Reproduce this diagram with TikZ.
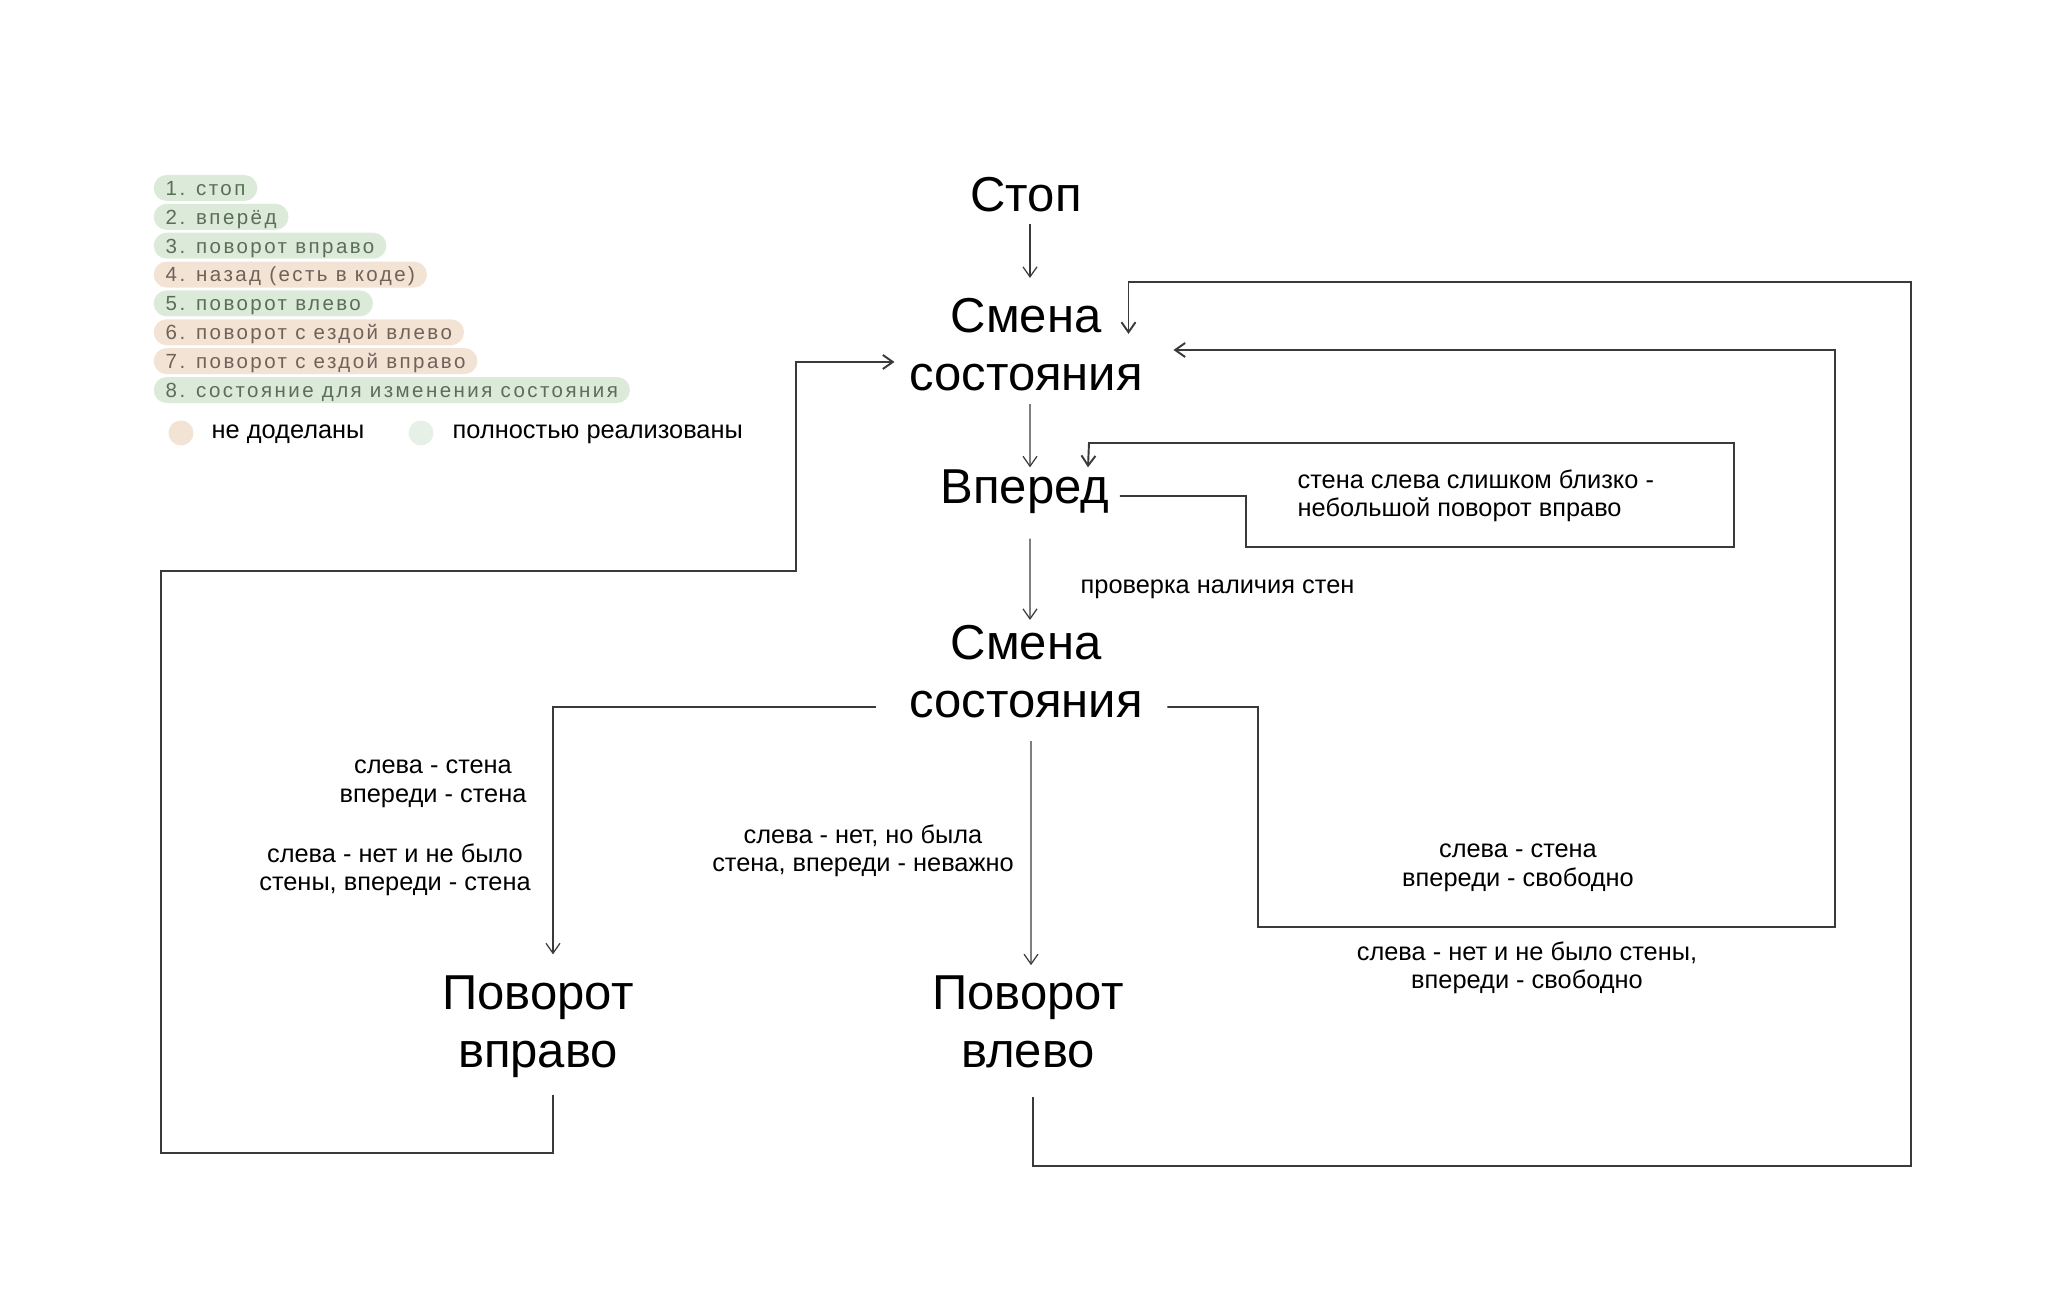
\documentclass[tikz,border=0pt]{standalone}
\usepackage{fontspec}
\setmainfont{Liberation Sans}
\newfontfamily\legendfont[LetterSpace=12]{Liberation Sans}
\usepackage{xcolor}
\usetikzlibrary{arrows.meta,positioning,calc}

\definecolor{pillgreen}{HTML}{DCEBD9}
\definecolor{pillbeige}{HTML}{F2E3D5}
\definecolor{textgreen}{HTML}{5A6E58}
\definecolor{textbeige}{HTML}{6E6259}
\definecolor{dotgreen}{HTML}{E6F0E6}
\definecolor{linegrey}{HTML}{3A3A3A}

\tikzset{
  statebox/.style={font=\fontsize{13.95pt}{16.5pt}\selectfont, align=center, inner sep=0pt},
  notebox/.style={font=\fontsize{7.22pt}{8.1pt}\selectfont, align=center, inner sep=0pt},
  arr/.style={-{Straight Barb[length=1mm,width=1.4mm]}, line width=0.35pt, draw=linegrey},
  loopline/.style={arr, line width=0.55pt},
  pill/.style={anchor=west, rounded corners=0.13cm, minimum height=0.26cm, inner ysep=0pt,
    inner xsep=0.12cm, text height=0.19cm, text depth=0.043cm,
    font=\legendfont\fontsize{5.83pt}{7pt}\selectfont},
  pilldone/.style={fill=pillgreen, text=textgreen},
  pilltodo/.style={fill=pillbeige, text=textbeige},
}

\begin{document}
\begin{tikzpicture}

\useasboundingbox (0,0) rectangle (20.48,13.14);

% legend
\foreach \txt/\kind [count=\i] in {1. стоп/done, 2. вперёд/done, 3. поворот вправо/done,
  4. назад (есть в коде)/todo, 5. поворот влево/done, 6. поворот с ездой влево/todo,
  7. поворот с ездой вправо/todo, 8. состояние для изменения состояния/done}
  \node[pill, pill\kind] (pill\i) at (1.53,{11.26-(\i-1)*0.2886}) {\txt};

\fill[pillbeige] (1.81,8.81) circle (0.125);
\fill[dotgreen] (4.21,8.81) circle (0.125);
\node[notebox, anchor=base west] (todo) at (2.11,8.75) {не доделаны};
\node[notebox, anchor=base west] (done) at (4.52,8.75) {полностью реализованы};

% states
\node[statebox] (stop) at (10.26,11.19) {Стоп};
\node[statebox] (smenaA) at (10.26,9.69) {Смена\\состояния};
\node[statebox] (vpered) at (10.25,8.22) {Вперед};
\node[statebox] (smenaB) at (10.26,6.42) {Смена\\состояния};
\node[statebox] (povR) at (5.38,2.87) {Поворот\\вправо};
\node[statebox] (povL) at (10.28,2.92) {Поворот\\влево};

% conditions
\node[notebox, anchor=west] (check) at (10.80,7.25) {проверка наличия стен};
\node[notebox, anchor=west, align=left] (close) at (12.97,8.18) {стена слева слишком близко -\\небольшой поворот вправо};
\node[notebox] (lblA) at (4.33,5.30) {слева - стена\\впереди - стена};
\node[notebox] (lblB) at (3.95,4.44) {слева - нет и не было\\стены, впереди - стена};
\node[notebox] (lblC) at (8.63,4.63) {слева - нет, но была\\стена, впереди - неважно};
\node[notebox] (lblD) at (15.18,4.46) {слева - стена\\впереди - свободно};
\node[notebox] (lblE) at (15.27,3.46) {слева - нет и не было стены,\\впереди - свободно};

% arrows
\draw[arr] ([xshift=.4mm,yshift=-1.1mm]stop.south) -- ([xshift=.4mm,yshift=2mm]smenaA.north);
\draw[arr] ([xshift=.4mm,yshift=-1.2mm]smenaA.south) -- ([xshift=.5mm,yshift=.2mm]vpered.north);
\draw[arr] ([xshift=.5mm,yshift=-2.4mm]vpered.south) -- ([xshift=.4mm,yshift=.5mm]smenaB.north);
\draw[arr] ([xshift=.5mm,yshift=-2.2mm]smenaB.south) -- ([xshift=.3mm,yshift=1mm]povL.north);
\draw[arr] ([xshift=-3.3mm,yshift=-3.5mm]smenaB.west) -| ([xshift=1.5mm,yshift=2.1mm]povR.north);

% loops
\draw[loopline] ([xshift=1mm,yshift=-.4mm]vpered.east) -- ++(1.26,0) |- (17.34,7.67) |- (10.89,8.71)
  -- ([xshift=-2.2mm,yshift=.2mm]vpered.north east);
\draw[loopline] ([xshift=2.4mm,yshift=-3.5mm]smenaB.east) -- (12.58,6.07) |- (18.35,3.87)
  |- ([xshift=3mm,yshift=-.5mm]smenaA.east);
\draw[loopline] ([xshift=.5mm,yshift=-2.8mm]povL.south) -- ++(0,-.69) -| (19.11,10.32)
  -| ([xshift=-1.5mm,yshift=-3.6mm]smenaA.north east);
\draw[loopline] ([xshift=1.5mm,yshift=-1.6mm]povR.south) -- ++(0,-.58) -| (1.61,7.43)
  -- (7.96,7.43) |- ([xshift=-1.4mm,yshift=-1.7mm]smenaA.west);

\end{tikzpicture}
\end{document}
